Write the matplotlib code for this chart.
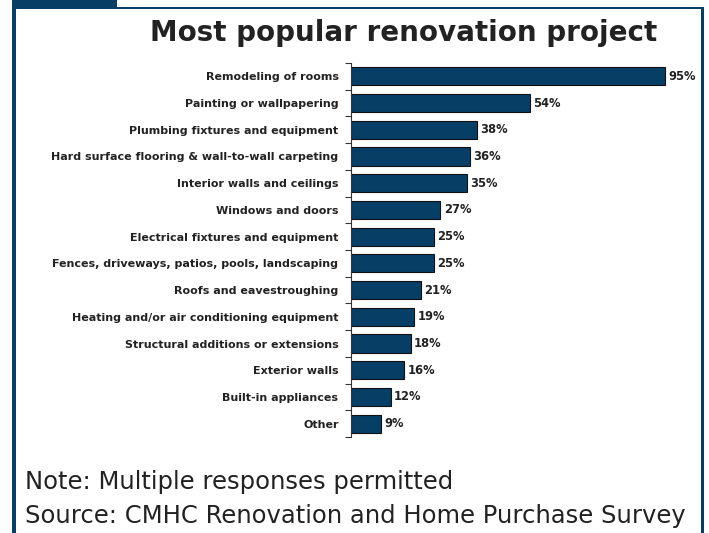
from matplotlib import pyplot as plt
from matplotlib.patches import Rectangle

#================================================================================================================================================
# survey results, share of renovators (%)
projects = ['Remodeling of rooms', 'Painting or wallpapering', 'Plumbing fixtures and equipment',
            'Hard surface flooring & wall-to-wall carpeting', 'Interior walls and ceilings',
            'Windows and doors', 'Electrical fixtures and equipment',
            'Fences, driveways, patios, pools, landscaping', 'Roofs and eavestroughing',
            'Heating and/or air conditioning equipment', 'Structural additions or extensions',
            'Exterior walls', 'Built-in appliances', 'Other']
shares = [95, 54, 38, 36, 35, 27, 25, 25, 21, 19, 18, 16, 12, 9]

W, H = 709, 533
NAVY = '#063f66'

#================================================================================================================================================
def px(x, y, w, h):
    # pixel box (top-left origin) -> figure fraction
    return (x / W, 1 - (y + h) / H, w / W, h / H)

def main():
    plt.rcParams['font.family'] = ['DejaVu Sans']
    fig = plt.figure(figsize=(W / 100, H / 100), dpi=100)

    # frame: tab at top-left, thick left edge, thin top and right lines
    for (x, y, w, h) in [(12, 0, 105, 9), (12, 0, 4, H), (117, 7, 587, 2), (701, 7, 3, H)]:
        l, b, ww, hh = px(x, y, w, h)
        fig.patches.append(Rectangle((l, b), ww, hh, transform=fig.transFigure,
                                     facecolor=NAVY, edgecolor='none'))

    fig.text(404 / W, 1 - 41 / H, 'Most popular renovation project', ha='center', va='baseline',
             fontsize=20, fontweight='bold', color='#222222')

    ax = fig.add_axes(px(351, 63, 331, 374))
    pos = list(range(len(projects)))
    ax.barh(pos, shares, height=0.68, color=NAVY, edgecolor='#111111', linewidth=0.8)
    for p, v in zip(pos, shares):
        ax.text(v + 1, p, '%d%%' % v, va='center', ha='left', fontsize=8.3,
                fontweight='bold', color='#222222')

    ax.set_xlim(0, 100)
    ax.set_ylim(len(projects) - 0.5, -0.5)
    ax.set_yticks(pos)
    ax.set_yticklabels(projects, fontsize=8, fontweight='bold', color='#222222')
    ax.set_yticks([p - 0.5 for p in pos] + [len(pos) - 0.5], minor=True)
    ax.tick_params(axis='y', which='major', length=0, pad=9)
    ax.tick_params(axis='y', which='minor', length=4, width=0.8, color='#333333')
    ax.set_xticks([])
    for s in ['top', 'right', 'bottom']:
        ax.spines[s].set_visible(False)
    ax.spines['left'].set_color('#333333')
    ax.spines['left'].set_linewidth(0.8)

    fig.text(25 / W, 1 - 489 / H, 'Note: Multiple responses permitted', ha='left',
             va='baseline', fontsize=17.5, color='#222222')
    fig.text(25 / W, 1 - 523 / H, 'Source: CMHC Renovation and Home Purchase Survey', ha='left',
             va='baseline', fontsize=17.5, color='#222222')

    fig.savefig('out.png', dpi=100)


if __name__ == "__main__":
    main()
